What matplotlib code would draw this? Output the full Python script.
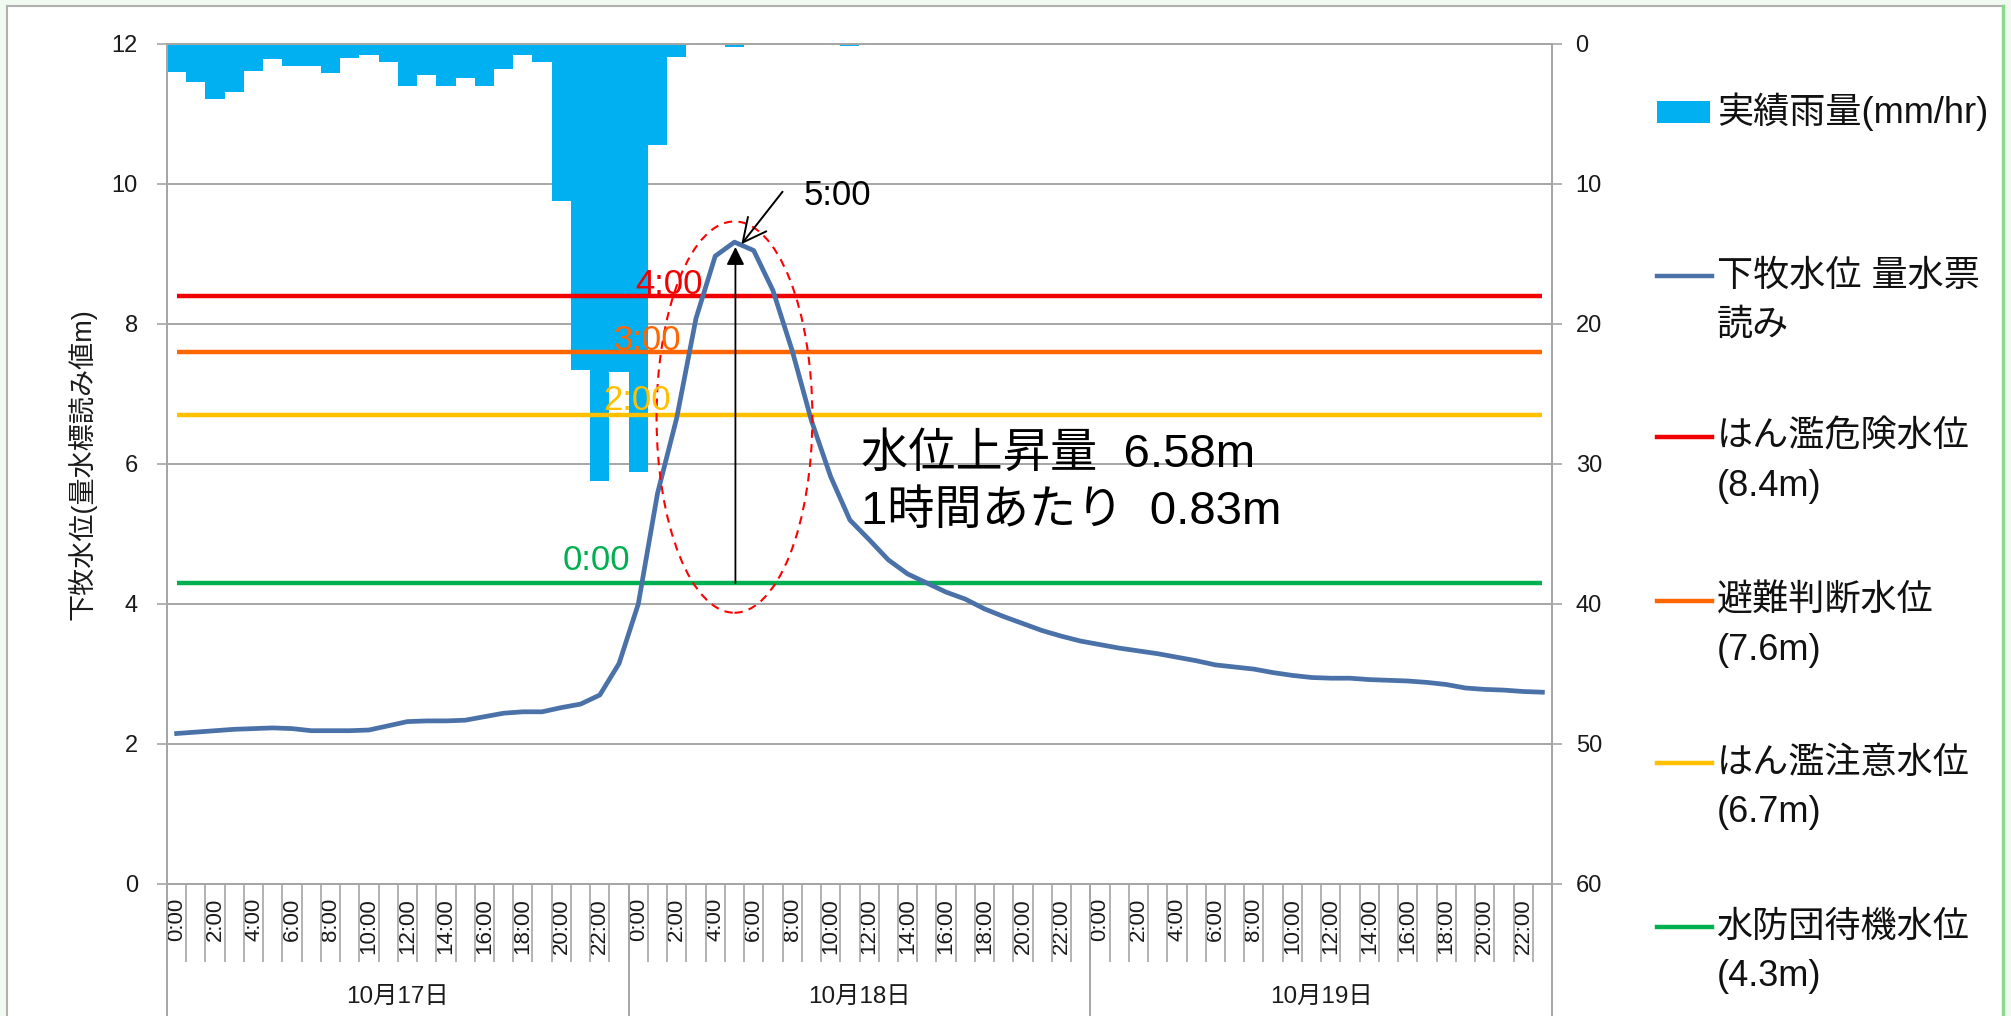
import matplotlib
matplotlib.use('Agg')
import matplotlib.pyplot as plt
import numpy as np
from matplotlib.patches import Ellipse, Rectangle
from matplotlib.lines import Line2D

plt.rcParams['font.family'] = ['Liberation Sans', 'Noto Sans CJK JP', 'DejaVu Sans']

# ---------------- data ----------------
days = ['10月17日', '10月18日', '10月19日']
hour_labels = ['0:00', '1:00', '2:00', '3:00', '4:00', '5:00', '6:00', '7:00',
               '8:00', '9:00', '10:00', '11:00', '12:00', '13:00', '14:00', '15:00',
               '16:00', '17:00', '18:00', '19:00', '20:00', '21:00', '22:00', '23:00']

# hourly rainfall (mm/hr), 10/17 0:00 .. 10/19 23:00
rain = [2.0, 2.7, 3.9, 3.4, 1.9, 1.1, 1.6, 1.6, 2.1, 1.0, 0.8, 1.3,
        3.0, 2.2, 3.0, 2.4, 3.0, 1.8, 0.8, 1.3, 11.2, 23.3, 31.2, 23.4,
        30.6, 7.2, 0.9, 0.1, 0.1, 0.2, 0.1, 0.1, 0.1, 0.1, 0.0, 0.15,
        0, 0, 0, 0, 0, 0, 0, 0, 0, 0, 0, 0,
        0, 0, 0, 0, 0, 0, 0, 0, 0, 0, 0, 0,
        0, 0, 0, 0, 0, 0, 0, 0, 0, 0, 0, 0]

# water level at Shimomaki (m)
level = [2.15, 2.17, 2.19, 2.21, 2.22, 2.23, 2.22, 2.19, 2.19, 2.19, 2.20, 2.26,
         2.32, 2.33, 2.33, 2.34, 2.39, 2.44, 2.46, 2.46, 2.52, 2.57, 2.70, 3.15,
         4.00, 5.58, 6.66, 8.08, 8.97, 9.17, 9.05, 8.48, 7.62, 6.62, 5.82, 5.20,
         4.92, 4.63, 4.43, 4.30, 4.17, 4.07, 3.93, 3.82, 3.72, 3.62, 3.54, 3.47,
         3.42, 3.37, 3.33, 3.29, 3.24, 3.19, 3.13, 3.10, 3.07, 3.02, 2.98, 2.95,
         2.94, 2.94, 2.92, 2.91, 2.90, 2.88, 2.85, 2.80, 2.78, 2.77, 2.75, 2.74]

thresholds = [8.4, 7.6, 6.7, 4.3]
threshold_colors = ['#F00000', '#FF6600', '#FFC000', '#00B050']
threshold_times = ['4:00', '3:00', '2:00', '0:00']

legend_labels = ['実績雨量(mm/hr)', '下牧水位 量水票\n読み', 'はん濫危険水位\n(8.4m)',
                 '避難判断水位\n(7.6m)', 'はん濫注意水位\n(6.7m)', '水防団待機水位\n(4.3m)']

rise_text = ['水位上昇量  6.58m', '1時間あたり  0.83m']
peak_label = '5:00'
ylabel_left = '下牧水位(量水標読み値m)'

rain_color = '#00B0F0'
line_color = '#4A72A8'
grid_color = '#A6A6A6'

# ---------------- figure ----------------
W, H = 2011, 1016
fig = plt.figure(figsize=(W / 100, H / 100), dpi=100)
fig.patch.set_facecolor('#F1FAF1')
fig.patches.append(Rectangle((7 / W, 0), (2003 - 7) / W, 1 - 6 / H, transform=fig.transFigure,
                             facecolor='white', edgecolor='none', zorder=-10))
fig.lines.append(Line2D([7 / W, 7 / W], [0, 1 - 6 / H], transform=fig.transFigure, color='#B0B0B0', lw=1.5))
fig.lines.append(Line2D([7 / W, 2003 / W], [1 - 6 / H, 1 - 6 / H], transform=fig.transFigure, color='#B0B0B0', lw=1.5))
fig.lines.append(Line2D([2003 / W, 2003 / W], [0, 1 - 6 / H], transform=fig.transFigure, color='#8ED88E', lw=2.5))

x0, x1, ytop, ybot = 167, 1552, 44, 884
rect = [x0 / W, 1 - ybot / H, (x1 - x0) / W, (ybot - ytop) / H]
ax = fig.add_axes(rect)
ax2 = ax.twinx()
ax.set_zorder(ax2.get_zorder() + 1)
ax.patch.set_visible(False)

n = len(level)
x = np.arange(n)

# rain bars (secondary, inverted)
ax2.bar(x, rain, width=1.0, color=rain_color, edgecolor='none', zorder=2)
ax2.set_ylim(60, 0)
ax2.set_yticks([0, 10, 20, 30, 40, 50, 60])
ax2.yaxis.grid(True, color=grid_color, lw=1.4, zorder=0)
ax2.set_axisbelow(True)
ax2.tick_params(axis='y', length=7, width=1.2, color=grid_color, labelsize=17, pad=10, labelcolor='#1a1a1a')

# water level and thresholds
for t, c in zip(thresholds, threshold_colors):
    ax.hlines(t, x[0], x[-1], colors=c, lw=3.2, zorder=3)
ax.plot(x, level, color=line_color, lw=3.4, zorder=4, solid_joinstyle='round')

ax.set_xlim(-0.5, n - 0.5)
ax.set_ylim(0, 12)
ax.set_yticks([0, 2, 4, 6, 8, 10, 12])
ax.tick_params(axis='y', length=7, width=1.2, color=grid_color, labelsize=17, pad=14, labelcolor='#1a1a1a')

for sp in list(ax.spines.values()) + list(ax2.spines.values()):
    sp.set_color(grid_color)
    sp.set_linewidth(1.4)

# x axis: hour labels every 2 h, category boundaries as long ticks
ax.set_xticks(x[::2])
ax.set_xticklabels([hour_labels[i % 24] for i in x[::2]], rotation=90, fontsize=16, color='#1a1a1a')
ax.tick_params(axis='x', which='major', length=0, pad=10)
ax.set_xticks(np.arange(-0.5, n, 1.0), minor=True)
ax.tick_params(axis='x', which='minor', length=56, width=1.2, color=grid_color)

xt = ax.get_xaxis_transform()
for d in range(len(days) + 1):
    b = d * 24 - 0.5
    ax.plot([b, b], [0, -(H - ybot) / (ybot - ytop)], transform=xt, color=grid_color, lw=1.4, clip_on=False)
for d, lab in enumerate(days):
    ax.text(d * 24 + 11.5, -(997 - ybot) / (ybot - ytop), lab, transform=xt, ha='center', va='center',
            fontsize=17.5, color='#1a1a1a')

ax.set_ylabel(ylabel_left, fontsize=19.5, color='#1a1a1a')
ax.yaxis.set_label_coords((97 - x0) / (x1 - x0), 0.5)

# threshold crossing time labels
time_pos = [(25.6, 8.43), (24.5, 7.63), (23.95, 6.77), (21.8, 4.49)]
for (tx, ty), lab, c in zip(time_pos, threshold_times, threshold_colors):
    ax.text(tx, ty, lab, color=c, fontsize=25, ha='center', va='baseline', zorder=6)

# peak annotation
ax.text(32.6, 9.7, peak_label, fontsize=25, ha='left', va='baseline', zorder=6)
ax.annotate('', xy=(29.36, 9.14), xytext=(31.5, 9.89),
            arrowprops=dict(arrowstyle='->', color='black', lw=1.4, mutation_scale=42,
                            shrinkA=0, shrinkB=0), zorder=6)
ax.annotate('', xy=(29.05, 9.1), xytext=(29.05, 4.3),
            arrowprops=dict(arrowstyle='-|>', color='black', lw=1.3, mutation_scale=27,
                            shrinkA=0, shrinkB=0), zorder=6)
ax.add_patch(Ellipse((29.0, 6.67), width=8.1, height=5.59, fill=False, edgecolor='#FF0000',
                     lw=1.5, ls=(0, (4, 3)), zorder=5))
ax.text(35.56, 6.13, rise_text[0], fontsize=34, ha='left', va='center', zorder=6)
ax.text(35.56, 5.31, rise_text[1], fontsize=34, ha='left', va='center', zorder=6)

# ---------------- legend (manual) ----------------
leg_y = [112, 276, 437, 601, 763, 927]
leg_handles = [rain_color, line_color] + threshold_colors
for i, (yy, lab, c) in enumerate(zip(leg_y, legend_labels, leg_handles)):
    fy = 1 - yy / H
    if i == 0:
        fig.patches.append(Rectangle((1657 / W, 1 - (yy + 11) / H), 53 / W, 22 / H,
                                     transform=fig.transFigure, facecolor=c, edgecolor='none'))
    else:
        fig.lines.append(Line2D([1657 / W, 1712 / W], [fy, fy], transform=fig.transFigure, color=c, lw=3.2))
    for k, part in enumerate(lab.split('\n')):
        fig.text(1717 / W, 1 - (yy + 49 * k) / H, part, fontsize=26, ha='left', va='center', color='#111111')

fig.savefig('out.png', dpi=100, facecolor=fig.get_facecolor())
